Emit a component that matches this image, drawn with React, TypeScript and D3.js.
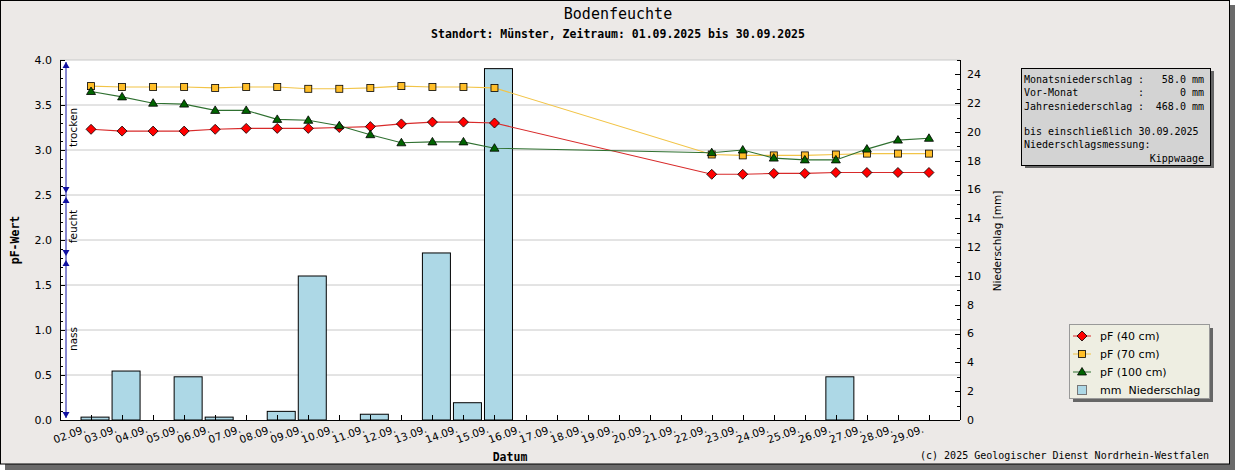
import * as d3 from 'd3';

const W = 1235;
const H = 470;

// days shown on the x axis (September 2025)
const dayLabels = [
  '02.09.', '03.09.', '04.09.', '05.09.', '06.09.', '07.09.', '08.09.',
  '09.09.', '10.09.', '11.09.', '12.09.', '13.09.', '14.09.', '15.09.',
  '16.09.', '17.09.', '18.09.', '19.09.', '20.09.', '21.09.', '22.09.',
  '23.09.', '24.09.', '25.09.', '26.09.', '27.09.', '28.09.', '29.09.',
];

// pF values, null = no measurement
const pf40 = [
  3.23, 3.21, 3.21, 3.21, 3.23, 3.24, 3.24, 3.24, 3.25, 3.26, 3.29, 3.31, 3.31, 3.30,
  null, null, null, null, null, null,
  2.73, 2.73, 2.74, 2.74, 2.75, 2.75, 2.75, 2.75,
];
const pf70 = [
  3.71, 3.70, 3.70, 3.70, 3.69, 3.70, 3.70, 3.68, 3.68, 3.69, 3.71, 3.70, 3.70, 3.69,
  null, null, null, null, null, null,
  2.95, 2.94, 2.94, 2.94, 2.95, 2.96, 2.96, 2.96,
];
const pf100 = [
  3.65, 3.59, 3.52, 3.51, 3.44, 3.44, 3.34, 3.33, 3.27, 3.17, 3.08, 3.09, 3.09, 3.02,
  null, null, null, null, null, null,
  2.97, 3.00, 2.91, 2.89, 2.89, 3.01, 3.11, 3.13,
];

// daily precipitation in mm
const precip = [
  0.2, 3.4, 0, 3.0, 0.2, 0, 0.6, 10.0, 0, 0.4, 0, 11.6, 1.2, 24.4,
  0, 0, 0, 0, 0, 0, 0, 0, 0, 0, 3.0, 0, 0, 0,
];

const zones = [
  { name: 'trocken', from: 2.5, to: 4.0 },
  { name: 'feucht', from: 1.8, to: 2.5 },
  { name: 'nass', from: 0, to: 1.8 },
];

const infoRows = [
  ['Monatsniederschlag', ':', '58.0 mm'],
  ['Vor-Monat', ':', '0 mm'],
  ['Jahresniederschlag', ':', '468.0 mm'],
];

const mono = '"DejaVu Sans Mono", monospace';
const sans = '"DejaVu Sans", sans-serif';

const series = [
  { label: 'pF (40 cm)', values: pf40, line: '#d82a2a', fill: '#ff0000', shape: 'diamond' },
  { label: 'pF (70 cm)', values: pf70, line: '#f2c447', fill: '#ffbe28', shape: 'square' },
  { label: 'pF (100 cm)', values: pf100, line: '#2f7030', fill: '#006400', shape: 'triangle' },
];

const left = 60, right = 960, top = 60, bottom = 420;

const x = d3.scaleLinear().domain([1, 30]).range([left, right]);
const yL = d3.scaleLinear().domain([0, 4]).range([bottom, top]);
const yR = d3.scaleLinear().domain([0, 25]).range([bottom, top]);
const dayOf = (i: number) => parseInt(dayLabels[i], 10);

function Marker({ shape, cx, cy, fill }: { shape: string; cx: number; cy: number; fill: string }) {
  if (shape === 'diamond') {
    const r = 5;
    return <path d={`M${cx},${cy - r}L${cx + r},${cy}L${cx},${cy + r}L${cx - r},${cy}Z`} fill={fill} stroke="#000" strokeWidth={0.8} />;
  }
  if (shape === 'square') {
    return <rect x={cx - 3.5} y={cy - 3.5} width={7} height={7} fill={fill} stroke="#000" strokeWidth={0.8} />;
  }
  return <path d={`M${cx},${cy - 4.5}L${cx + 4.5},${cy + 3}L${cx - 4.5},${cy + 3}Z`} fill={fill} stroke="#000" strokeWidth={0.8} />;
}

export default function App() {
  const line = d3.line<[number, number]>().x(d => d[0]).y(d => d[1]);
  const minorL = d3.range(0, 40.5).map(d => d / 10);
  const majorL = yL.ticks(8);
  const majorR = d3.range(0, 25, 2);
  const minorR = d3.range(1, 26, 2);

  const arrow = (cx: number, tip: number, dir: number) =>
    `M${cx},${tip}L${cx + 3.5},${tip - dir * 6}L${cx - 3.5},${tip - dir * 6}Z`;

  return (
    <svg width={W} height={H} style={{ position: 'absolute', left: 0, top: 0 }}>
      {/* frame with shadow */}
      <rect x={5} y={5} width={W - 5} height={H - 5} fill="#6a6a6a" />
      <rect x={0.5} y={0.5} width={1229} height={463.5} fill="#ece9e7" stroke="#000" />

      <text x={618} y={19} textAnchor="middle" fontFamily={mono} fontSize={15}>Bodenfeuchte</text>
      <text x={618} y={37.5} textAnchor="middle" fontFamily={mono} fontSize={11.5} fontWeight="bold">
        Standort: Münster, Zeitraum: 01.09.2025 bis 30.09.2025
      </text>

      {/* plot area */}
      <rect x={left} y={top} width={right - left} height={bottom - top} fill="#fff" />
      {majorL.filter(d => d > 0).map(d => (
        <line key={d} x1={left} x2={right} y1={yL(d)} y2={yL(d)} stroke="#c8c8c8" />
      ))}

      {/* precipitation bars */}
      {precip.map((v, i) => v > 0 && (
        <rect key={i} x={x(dayOf(i)) - 10} y={yR(v)} width={28} height={bottom - yR(v)}
          fill="#add8e6" stroke="#000" strokeWidth={1} />
      ))}

      {/* pF lines */}
      {series.map(s => {
        const pts = s.values
          .map((v, i) => (v == null ? null : [x(dayOf(i)), yL(v)] as [number, number]))
          .filter((p): p is [number, number] => p != null);
        return (
          <g key={s.label}>
            <path d={line(pts) ?? ''} fill="none" stroke={s.line} strokeWidth={1.1} />
            {pts.map((p, i) => <Marker key={i} shape={s.shape} cx={p[0]} cy={p[1]} fill={s.fill} />)}
          </g>
        );
      })}

      {/* x axis */}
      <line x1={left} x2={right} y1={bottom + 0.5} y2={bottom + 0.5} stroke="#000" />
      {dayLabels.map((lab, i) => {
        const tx = Math.round(x(dayOf(i))) + 0.5;
        return (
          <g key={lab}>
            <line x1={tx} x2={tx} y1={bottom} y2={bottom - 5} stroke="#000" />
            <text transform={`translate(${tx - 5},${432}) rotate(-20)`} textAnchor="end"
              fontFamily={sans} fontSize={10.5}>{lab}</text>
          </g>
        );
      })}
      <text x={510} y={461} textAnchor="middle" fontFamily={mono} fontSize={11.5} fontWeight="bold">Datum</text>

      {/* left axis */}
      <line x1={left + 0.5} x2={left + 0.5} y1={top} y2={bottom} stroke="#000" />
      {minorL.map(d => (
        <line key={d} x1={left} x2={left + 3} y1={Math.round(yL(d)) + 0.5} y2={Math.round(yL(d)) + 0.5} stroke="#000" />
      ))}
      {majorL.map(d => (
        <g key={d}>
          <line x1={left} x2={left + 5} y1={Math.round(yL(d)) + 0.5} y2={Math.round(yL(d)) + 0.5} stroke="#000" />
          <text x={52} y={yL(d)} dy="0.35em" textAnchor="end" fontFamily={sans} fontSize={11}>{d3.format('.1f')(d)}</text>
        </g>
      ))}
      <text transform="translate(19,240) rotate(-90)" textAnchor="middle" fontFamily={mono} fontSize={11.5} fontWeight="bold">pF-Wert</text>

      {/* moisture zones */}
      <line x1={66} x2={66} y1={top + 2} y2={bottom - 2} stroke="#1010a0" />
      {zones.map(z => {
        const t = yL(z.to) + 2;
        const b = yL(z.from) - 2;
        return (
          <g key={z.name}>
            <path d={arrow(66, t, -1)} fill="#1010a0" />
            <path d={arrow(66, b, 1)} fill="#1010a0" />
            <text transform={`translate(77,${(yL(z.to) + yL(z.from)) / 2}) rotate(-90)`} textAnchor="middle"
              fontFamily={sans} fontSize={10.5} fill="#000">{z.name}</text>
          </g>
        );
      })}

      {/* right axis */}
      <line x1={right + 0.5} x2={right + 0.5} y1={top} y2={bottom} stroke="#000" />
      {minorR.map(d => (
        <line key={d} x1={right - 3} x2={right} y1={Math.round(yR(d)) + 0.5} y2={Math.round(yR(d)) + 0.5} stroke="#000" />
      ))}
      {majorR.map(d => (
        <g key={d}>
          <line x1={right - 5} x2={right} y1={Math.round(yR(d)) + 0.5} y2={Math.round(yR(d)) + 0.5} stroke="#000" />
          <text x={967} y={yR(d)} dy="0.35em" fontFamily={sans} fontSize={11}>{d}</text>
        </g>
      ))}
      <text transform="translate(1001,241) rotate(-90)" textAnchor="middle" fontFamily={sans} fontSize={10.5}>Niederschlag [mm]</text>

      {/* info box */}
      <rect x={1025} y={71} width={189} height={97} fill="#666" />
      <rect x={1021.5} y={68.5} width={189} height={97} fill="#d3d3d3" stroke="#000" />
      {infoRows.map((r, i) => (
        <g key={r[0]} fontFamily={mono} fontSize={10}>
          <text x={1024} y={83 + i * 13.3}>{r[0]}</text>
          <text x={1138} y={83 + i * 13.3}>{r[1]}</text>
          <text x={1204} y={83 + i * 13.3} textAnchor="end">{r[2]}</text>
        </g>
      ))}
      <text x={1024} y={135} fontFamily={mono} fontSize={10}>bis einschließlich 30.09.2025</text>
      <text x={1024} y={148.3} fontFamily={mono} fontSize={10}>Niederschlagsmessung:</text>
      <text x={1204} y={161.6} textAnchor="end" fontFamily={mono} fontSize={10}>Kippwaage</text>

      {/* legend */}
      <rect x={1073} y={328} width={140} height={74} fill="#666" />
      <rect x={1069.5} y={324.5} width={140} height={74} fill="#eeeee2" stroke="#999" />
      {series.map((s, i) => {
        const cy = 336 + i * 18;
        return (
          <g key={s.label}>
            <line x1={1073} x2={1091} y1={cy} y2={cy} stroke={s.line} />
            <Marker shape={s.shape} cx={1082} cy={cy} fill={s.fill} />
            <text x={1100} y={cy} dy="0.35em" fontFamily={sans} fontSize={11}>{s.label}</text>
          </g>
        );
      })}
      <rect x={1077.5} y={385.5} width={9} height={9} fill="#add8e6" stroke="#777" />
      <text x={1100} y={390} dy="0.35em" fontFamily={sans} fontSize={11} style={{ whiteSpace: 'pre' }}>mm  Niederschlag</text>

      <text x={1209} y={459} textAnchor="end" fontFamily={mono} fontSize={10}>
        (c) 2025 Geologischer Dienst Nordrhein-Westfalen
      </text>
    </svg>
  );
}
